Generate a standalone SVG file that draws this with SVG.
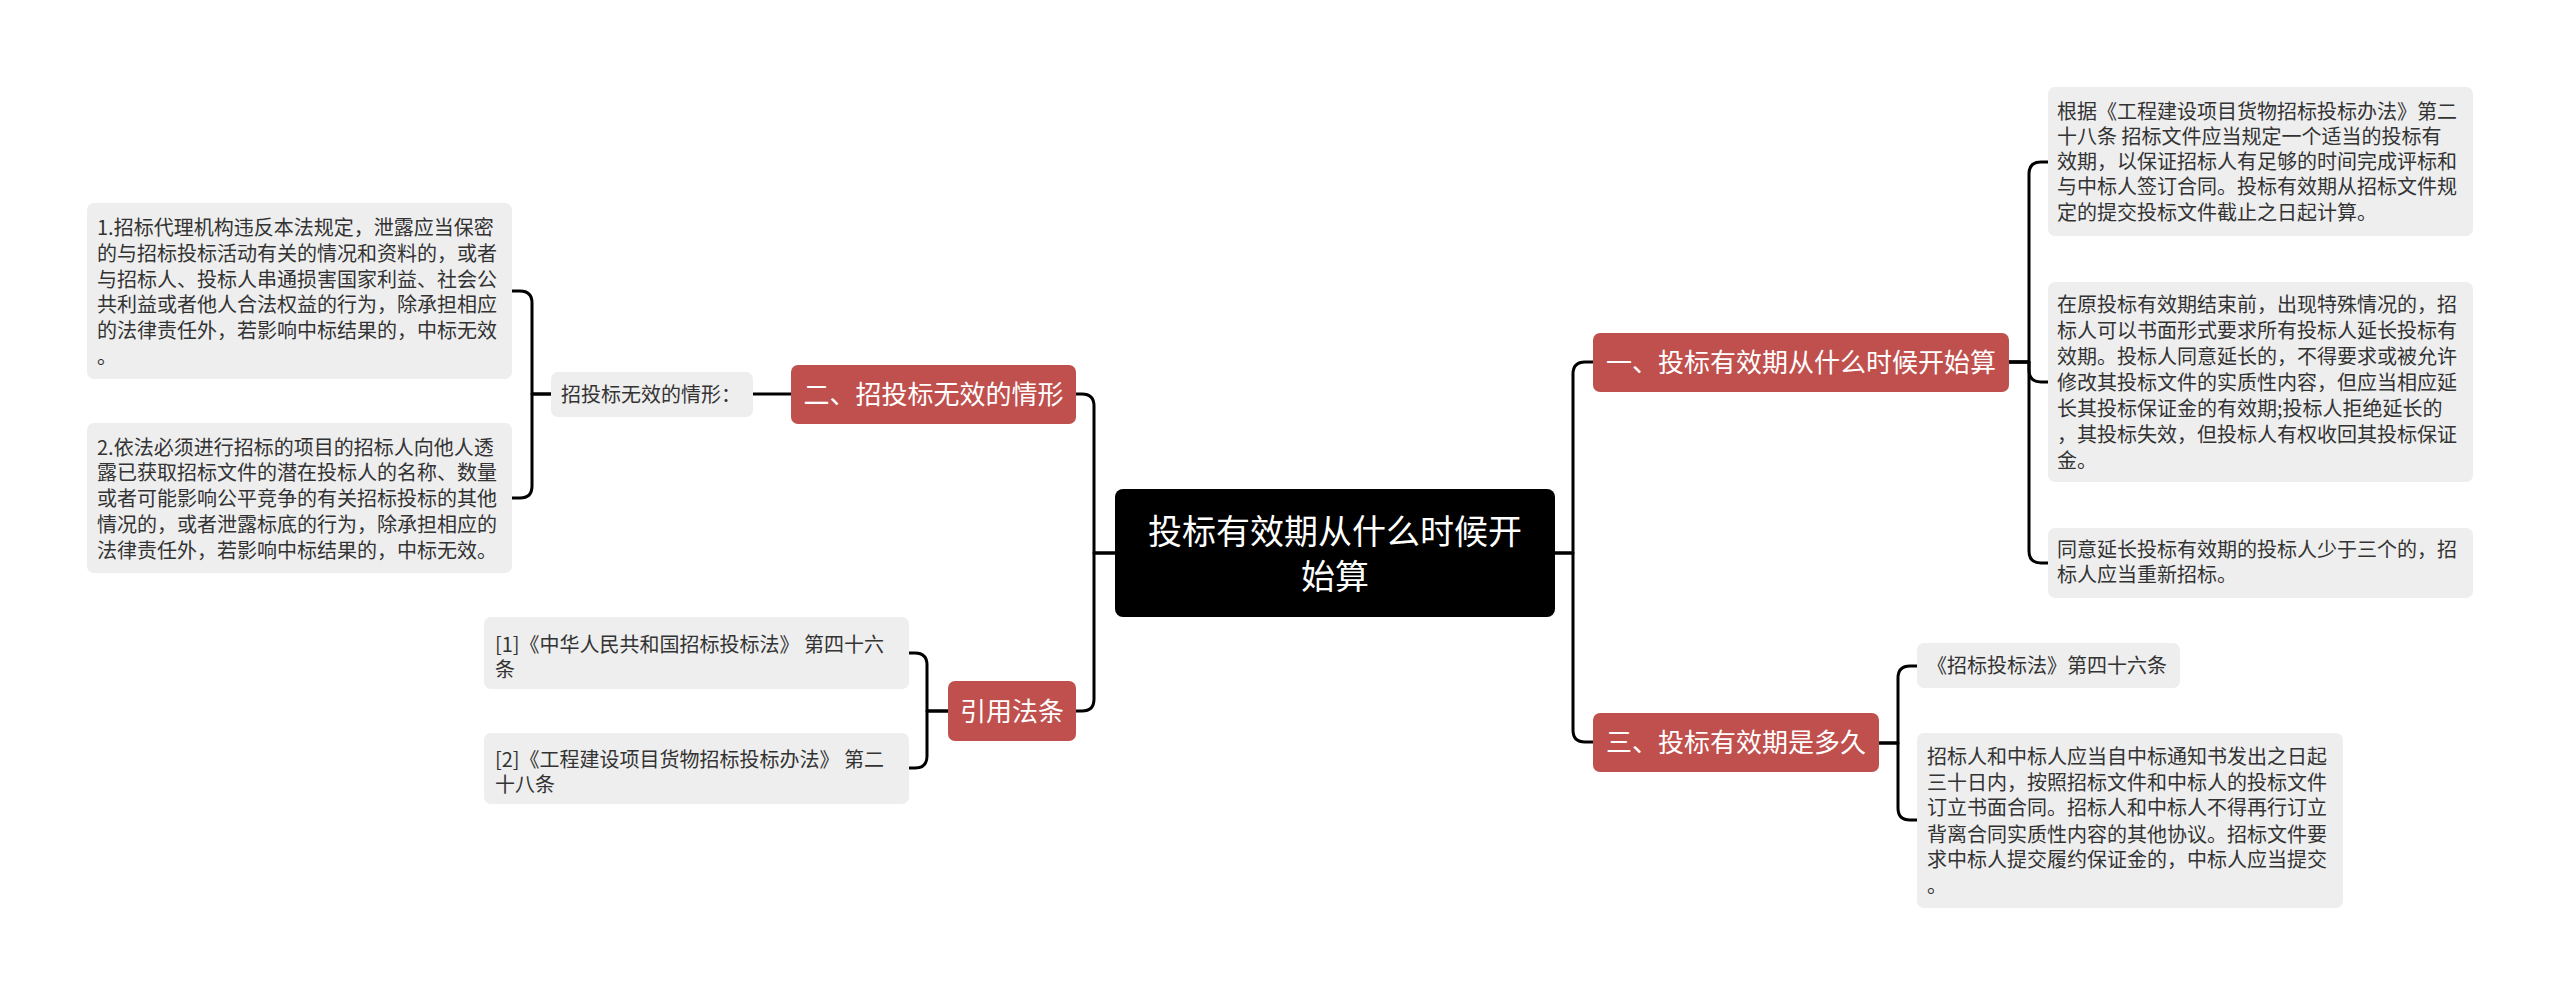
<svg xmlns="http://www.w3.org/2000/svg" width="2560" height="996" viewBox="0 0 2560 996">
<style>
.bg{fill:#ffffff}
.c{fill:none;stroke:#000;stroke-width:3;stroke-linecap:round;stroke-linejoin:round}
.root{fill:#000}
.main{fill:#C0504D}
.leaf{fill:#EEEEEE}
.tr{font-family:"Noto Sans CJK SC","Noto Sans",sans-serif;font-size:34px;fill:#fff;text-anchor:middle}
.tm{font-family:"Noto Sans CJK SC","Noto Sans",sans-serif;font-size:26px;fill:#fff;text-anchor:middle}
.tl{font-family:"Noto Sans CJK SC","Noto Sans",sans-serif;font-size:20px;fill:#333}
</style>
<rect class="bg" x="0" y="0" width="2560" height="996"/>
<g id="connectors">
<path class="c" d="M1115,553 H1094 V406 Q1094,394 1082,394 H1076"/>
<path class="c" d="M1115,553 H1094 V699 Q1094,711 1082,711 H1076"/>
<path class="c" d="M791,394 H753"/>
<path class="c" d="M551,394 H532 V303 Q532,291 520,291 H512"/>
<path class="c" d="M551,394 H532 V486 Q532,498 520,498 H512"/>
<path class="c" d="M948,711 H927 V665 Q927,653 915,653 H909"/>
<path class="c" d="M948,711 H927 V756 Q927,768 915,768 H909"/>
<path class="c" d="M1555,553 H1573 V374 Q1573,362 1585,362 H1593"/>
<path class="c" d="M1555,553 H1573 V730 Q1573,742 1585,742 H1593"/>
<path class="c" d="M2009,362 H2029 V174 Q2029,162 2041,162 H2048"/>
<path class="c" d="M2009,362 H2029 V370 Q2029,382 2041,382 H2048"/>
<path class="c" d="M2009,362 H2029 V551 Q2029,563 2041,563 H2048"/>
<path class="c" d="M1879,743 H1898 V678 Q1898,666 1910,666 H1917"/>
<path class="c" d="M1879,743 H1898 V808 Q1898,820 1910,820 H1917"/>
</g>
<g id="root">
<rect class="root" x="1115" y="489" width="440" height="128" rx="8"/>
<text class="tr" x="1335" y="544">投标有效期从什么时候开</text>
<text class="tr" x="1335" y="589">始算</text>
</g>
<g id="n2">
<rect class="main" x="791" y="365" width="285" height="59" rx="7"/>
<text class="tm" x="933.5" y="403.5">二、招投标无效的情形</text>
</g>
<g id="n2a">
<rect class="leaf" x="551" y="372" width="202" height="45" rx="7"/>
<text class="tl" x="561" y="402">招投标无效的情形：</text>
</g>
<g id="n2a1">
<rect class="leaf" x="87" y="203" width="425" height="176" rx="7"/>
<text class="tl"><tspan x="97" y="235">1.招标代理机构违反本法规定，泄露应当保密</tspan><tspan x="97" y="261">的与招标投标活动有关的情况和资料的，或者</tspan><tspan x="97" y="287">与招标人、投标人串通损害国家利益、社会公</tspan><tspan x="97" y="312">共利益或者他人合法权益的行为，除承担相应</tspan><tspan x="97" y="338">的法律责任外，若影响中标结果的，中标无效</tspan><tspan x="97" y="364">。</tspan></text>
</g>
<g id="n2a2">
<rect class="leaf" x="87" y="423" width="425" height="150" rx="7"/>
<text class="tl"><tspan x="97" y="455">2.依法必须进行招标的项目的招标人向他人透</tspan><tspan x="97" y="480">露已获取招标文件的潜在投标人的名称、数量</tspan><tspan x="97" y="506">或者可能影响公平竞争的有关招标投标的其他</tspan><tspan x="97" y="532">情况的，或者泄露标底的行为，除承担相应的</tspan><tspan x="97" y="558">法律责任外，若影响中标结果的，中标无效。</tspan></text>
</g>
<g id="n4">
<rect class="main" x="948" y="681" width="128" height="60" rx="7"/>
<text class="tm" x="1012" y="720.5">引用法条</text>
</g>
<g id="n4a">
<rect class="leaf" x="484" y="617" width="425" height="72" rx="7"/>
<text class="tl"><tspan x="495" y="652">[1]《中华人民共和国招标投标法》 第四十六</tspan><tspan x="495" y="677">条</tspan></text>
</g>
<g id="n4b">
<rect class="leaf" x="484" y="733" width="425" height="71" rx="7"/>
<text class="tl"><tspan x="495" y="767">[2]《工程建设项目货物招标投标办法》 第二</tspan><tspan x="495" y="792">十八条</tspan></text>
</g>
<g id="n1">
<rect class="main" x="1593" y="333" width="416" height="59" rx="7"/>
<text class="tm" x="1801" y="371.5">一、投标有效期从什么时候开始算</text>
</g>
<g id="n1a">
<rect class="leaf" x="2048" y="87" width="425" height="149" rx="7"/>
<text class="tl"><tspan x="2057" y="119">根据《工程建设项目货物招标投标办法》第二</tspan><tspan x="2057" y="144">十八条 招标文件应当规定一个适当的投标有</tspan><tspan x="2057" y="169">效期，以保证招标人有足够的时间完成评标和</tspan><tspan x="2057" y="194">与中标人签订合同。投标有效期从招标文件规</tspan><tspan x="2057" y="220">定的提交投标文件截止之日起计算。</tspan></text>
</g>
<g id="n1b">
<rect class="leaf" x="2048" y="282" width="425" height="200" rx="7"/>
<text class="tl"><tspan x="2057" y="312">在原投标有效期结束前，出现特殊情况的，招</tspan><tspan x="2057" y="338">标人可以书面形式要求所有投标人延长投标有</tspan><tspan x="2057" y="364">效期。投标人同意延长的，不得要求或被允许</tspan><tspan x="2057" y="390">修改其投标文件的实质性内容，但应当相应延</tspan><tspan x="2057" y="416">长其投标保证金的有效期;投标人拒绝延长的</tspan><tspan x="2057" y="442">，其投标失效，但投标人有权收回其投标保证</tspan><tspan x="2057" y="468">金。</tspan></text>
</g>
<g id="n1c">
<rect class="leaf" x="2048" y="528" width="425" height="70" rx="7"/>
<text class="tl"><tspan x="2057" y="557">同意延长投标有效期的投标人少于三个的，招</tspan><tspan x="2057" y="582">标人应当重新招标。</tspan></text>
</g>
<g id="n3">
<rect class="main" x="1593" y="713" width="286" height="59" rx="7"/>
<text class="tm" x="1736" y="752">三、投标有效期是多久</text>
</g>
<g id="n3a">
<rect class="leaf" x="1917" y="643" width="263" height="45" rx="7"/>
<text class="tl" x="1927" y="673">《招标投标法》第四十六条</text>
</g>
<g id="n3b">
<rect class="leaf" x="1917" y="733" width="426" height="175" rx="7"/>
<text class="tl"><tspan x="1927" y="764">招标人和中标人应当自中标通知书发出之日起</tspan><tspan x="1927" y="790">三十日内，按照招标文件和中标人的投标文件</tspan><tspan x="1927" y="815">订立书面合同。招标人和中标人不得再行订立</tspan><tspan x="1927" y="842">背离合同实质性内容的其他协议。招标文件要</tspan><tspan x="1927" y="867">求中标人提交履约保证金的，中标人应当提交</tspan><tspan x="1927" y="893">。</tspan></text>
</g>
</svg>
